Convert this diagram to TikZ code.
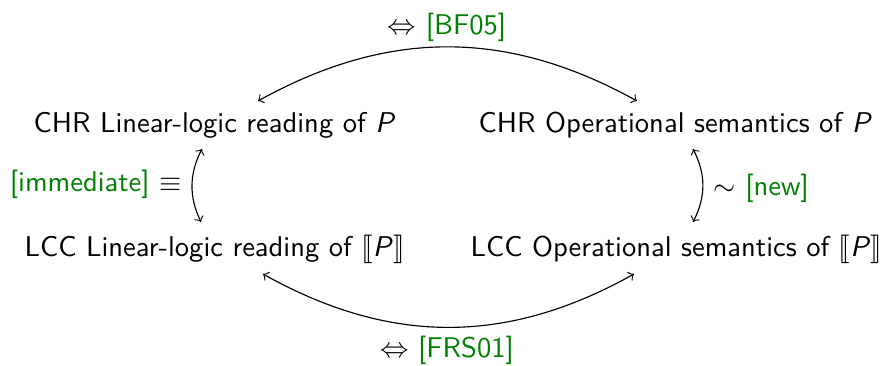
\documentclass[tikz,border=0pt]{standalone}
\usepackage{stmaryrd}
\renewcommand{\familydefault}{\sfdefault}
\begin{document}
\begin{tikzpicture}[x=0.35pt,y=-0.35pt,
  txt/.style={inner sep=0pt, font=\sffamily},
  arr/.style={<->, >=to, line width=0.4pt}]
\useasboundingbox (0,0) rectangle (887,366);
\colorlet{refgreen}{green!50!black}
% main nodes
\node[txt, anchor=base west] (clin) at (33,133) {CHR Linear-logic reading of \textit{P}};
\node[txt, anchor=base west] (cop)  at (478,133) {CHR Operational semantics of \textit{P}};
\node[txt, anchor=base west] (llin) at (24,257) {LCC Linear-logic reading of $\llbracket$\textit{P}$\rrbracket$};
\node[txt, anchor=base west] (lop)  at (470,257) {LCC Operational semantics of $\llbracket$\textit{P}$\rrbracket$};
% labels
\node[txt, anchor=base] (bf) at (447,35) {$\Leftrightarrow$ \textcolor{refgreen}{[BF05]}};
\node[txt, anchor=base] (frs) at (447,358) {$\Leftrightarrow$ \textcolor{refgreen}{[FRS01]}};
\node[txt, anchor=base east] (imm) at (182,192) {\textcolor{refgreen}{[immediate]} $\equiv$};
\node[txt, anchor=base west] (new) at (713,196) {$\sim$ \textcolor{refgreen}{[new]}};
% connector ends
\coordinate (tl) at (258,101);
\coordinate (tr) at (637,101);
\coordinate (bl) at (263,274);
\coordinate (br) at (634,274);
\coordinate (lt) at (202,149);
\coordinate (lb) at (201,222);
\coordinate (rt) at (693,149);
\coordinate (rb) at (693,222);
% connectors
\draw[arr] (tl) .. controls (388,29) and (507,29) .. (tr);
\draw[arr] (bl) .. controls (390,345) and (507,345) .. (br);
\draw[arr] (lt) .. controls (189,174) and (189,197) .. (lb);
\draw[arr] (rt) .. controls (706,174) and (706,197) .. (rb);
\end{tikzpicture}
\end{document}
